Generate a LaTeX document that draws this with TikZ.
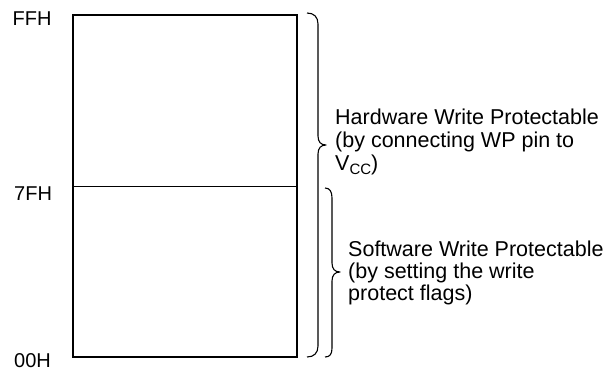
\documentclass[tikz,border=0pt]{standalone}
\usepackage{fontspec}
\setmainfont{Liberation Sans}
\begin{document}
\begin{tikzpicture}[x=1pt,y=-1pt,
  addr/.style={anchor=base west,inner sep=0pt,font=\fontsize{20}{22}\selectfont},
  note/.style={anchor=base west,inner sep=0pt,font=\fontsize{21.5}{22}\selectfont},
  bracepath/.style={line width=1.1pt,line join=round},
  memframe/.style={line width=2.4pt},
  divider/.style={line width=1pt}]
\useasboundingbox (0,0) rectangle (610,372);
% memory block
\coordinate (tl) at (73,15);
\coordinate (br) at (297,357);
\draw[memframe] (tl) rectangle (br);
\coordinate (mL) at (73,186);
\coordinate (mR) at (297,186);
\draw[divider] (mL) -- (mR);
% address labels
\node[addr] (ffh) at (12.5,25) {FFH};
\node[addr] (sfh) at (14,200) {7FH};
\node[addr] (ooh) at (14,367) {00H};
% upper brace (whole array)
\draw[bracepath] (307,13) .. controls (314,13) and (318,17) .. (318,24)
  -- (318,136) .. controls (318,142) and (321,145) .. (326,145)
  .. controls (321,145) and (318,148) .. (318,154)
  -- (318,346) .. controls (318,353) and (314,357) .. (307,357);
% lower brace
\draw[bracepath] (325,188) .. controls (330,188) and (332,192) .. (332,198)
  -- (332,263) .. controls (332,269) and (335,272) .. (340,272)
  .. controls (335,272) and (332,275) .. (332,281)
  -- (332,348) .. controls (332,354) and (330,357) .. (325,357);
% texts
\node[note] (hw1) at (335,124) {Hardware Write Protectable};
\node[note] (hw2) at (335,147) {(by connecting WP pin to};
\node[note] (hw3) at (335,170.5) {V\raisebox{-3.5pt}{\fontsize{15}{15}\selectfont CC})};
\node[note] (sw1) at (348,256) {Software Write Protectable};
\node[note] (sw2) at (348,278) {(by setting the write};
\node[note] (sw3) at (348,300) {protect flags)};
\end{tikzpicture}
\end{document}
